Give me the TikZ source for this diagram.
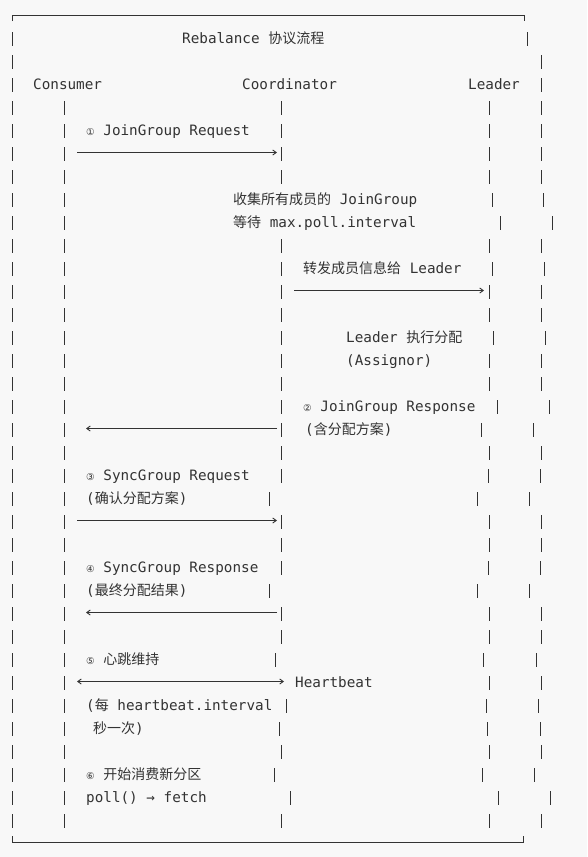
\documentclass[tikz,border=0pt]{standalone}
\usepackage{fontspec}
\setmonofont{DejaVu Sans Mono}
\newfontfamily\cjk{Noto Sans CJK SC}
\newfontfamily\symb{DejaVu Sans}
\usetikzlibrary{arrows.meta}
\definecolor{ink}{HTML}{333333}
\definecolor{paper}{HTML}{F8F8F8}
\newcommand{\zh}[1]{{\cjk\fontsize{14}{17}\selectfont #1}}
\newcommand{\cn}[1]{\makebox[8.6pt][l]{\symb\fontsize{9.5}{11}\selectfont #1}}
% one row of bar glyphs: centre y, list of x
\newcommand{\vbars}[2]{\foreach \bx in {#2} \draw[vb] (\bx, {#1-7}) -- (\bx, {#1+7});}

\begin{document}
\begin{tikzpicture}[x=1pt, y=-1pt,
  txt/.style={anchor=base west, inner sep=0pt, text=ink, font=\fontsize{14.3}{17}\selectfont\ttfamily},
  vb/.style={draw=ink, line width=1pt},
  msg/.style={draw=ink, line width=0.9pt},
  tip/.style={-{Straight Barb[length=3.5pt, width=5pt]}},
  tips/.style={{Straight Barb[length=3.5pt, width=5pt]}-{Straight Barb[length=3.5pt, width=5pt]}}]

\fill[paper] (0,0) rectangle (587,857);
\useasboundingbox (0,0) rectangle (587,857);

% frame
\draw[vb] (12,21) -- (12,15) -- (524,15) -- (524,21);
\draw[vb] (12,836) -- (12,842) -- (523,842) -- (523,836);
\foreach \r in {1,...,35} \draw[vb] (12, {39+(\r-1)*23-7}) -- ++(0,14);
\foreach \r in {4,...,35} \draw[vb] (64, {39+(\r-1)*23-7}) -- ++(0,14);

% header
\node[txt] (title) at (182,43) {Rebalance \zh{协议流程}};
\node[txt] (consumer) at (33,89) {Consumer};
\node[txt] (coord) at (242,89) {Coordinator};
\node[txt] (leader) at (468,89) {Leader};

\vbars{39}{527}
\vbars{62}{541}
\vbars{85}{541}
\vbars{108}{281,489,541}
\vbars{131}{281,489,541}
\vbars{154}{281,489,541}
\vbars{177}{281,489,541}
\vbars{200}{492,543}
\vbars{223}{500,552}
\vbars{246}{281,489,541}
\vbars{269}{281,492,544}
\vbars{292}{281,489,541}
\vbars{315}{281,489,541}
\vbars{338}{281,493,545}
\vbars{361}{281,489,541}
\vbars{384}{281,489,541}
\vbars{407}{281,497,549}
\vbars{430}{281,481,533}
\vbars{453}{281,489,541}
\vbars{476}{281,488,540}
\vbars{499}{269,477,529}
\vbars{522}{281,489,541}
\vbars{545}{281,489,541}
\vbars{568}{281,488,540}
\vbars{591}{269,477,529}
\vbars{614}{281,489,541}
\vbars{637}{281,489,541}
\vbars{660}{275,483,536}
\vbars{683}{489,541}
\vbars{706}{286,486,538}
\vbars{729}{279,487,540}
\vbars{752}{281,489,541}
\vbars{775}{274,482,534}
\vbars{798}{290,498,550}
\vbars{821}{281,489,541}

% JoinGroup
\node[txt] (jreq) at (86,135) {\cn{①} JoinGroup Request};
\coordinate (jreqa) at (77,152.5);
\coordinate (jreqb) at (277,152.5);
\draw[msg, tip] (jreqa) -- (jreqb);
\node[txt] (collect) at (233,204) {\zh{收集所有成员的} JoinGroup};
\node[txt] (wait) at (233,227) {\zh{等待} max.poll.interval};
\node[txt] (fwd) at (303,273) {\zh{转发成员信息给} Leader};
\coordinate (fwda) at (294,290.5);
\coordinate (fwdb) at (484,290.5);
\draw[msg, tip] (fwda) -- (fwdb);
\node[txt] (assign) at (346,342) {Leader \zh{执行分配}};
\node[txt] (assignor) at (346,365) {(Assignor)};
\node[txt] (jresp) at (303,411) {\cn{②} JoinGroup Response};
\node[txt] (jplan) at (305,434) {(\zh{含分配方案})};
\coordinate (jrespa) at (277,428.5);
\coordinate (jrespb) at (86,428.5);
\draw[msg, tip] (jrespa) -- (jrespb);

% SyncGroup
\node[txt] (sreq) at (86,480) {\cn{③} SyncGroup Request};
\node[txt] (sconf) at (86,503) {(\zh{确认分配方案})};
\coordinate (sreqa) at (77,520.5);
\coordinate (sreqb) at (277,520.5);
\draw[msg, tip] (sreqa) -- (sreqb);
\node[txt] (sresp) at (86,572) {\cn{④} SyncGroup Response};
\node[txt] (sfinal) at (86,595) {(\zh{最终分配结果})};
\coordinate (sresa) at (277,612.5);
\coordinate (sresb) at (86,612.5);
\draw[msg, tip] (sresa) -- (sresb);

% heartbeat
\node[txt] (hb) at (86,664) {\cn{⑤} \zh{心跳维持}};
\coordinate (hba) at (77,681.5);
\coordinate (hbb) at (284,681.5);
\draw[msg, tips] (hba) -- (hbb);
\node[txt] (hbl) at (295,687) {Heartbeat};
\node[txt] (every) at (86,710) {(\zh{每} heartbeat.interval};
\node[txt] (once) at (93,733) {\zh{秒一次})};

% consume
\node[txt] (cons) at (86,779) {\cn{⑥} \zh{开始消费新分区}};
\node[txt] (poll) at (86,802) {poll() → fetch};

\end{tikzpicture}
\end{document}
